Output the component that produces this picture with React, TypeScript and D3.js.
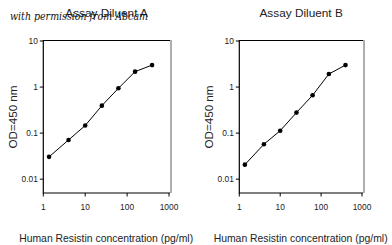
import React from "react";
import * as d3 from "d3";

const concentrations = [1.37, 4, 10, 25, 62, 155, 395];
const odDiluentA = [0.0305, 0.071, 0.146, 0.395, 0.94, 2.16, 3.0];
const odDiluentB = [0.0207, 0.0574, 0.113, 0.279, 0.664, 1.92, 3.0];
const xTicks = [1, 10, 100, 1000];
const yTicks = [10, 1, 0.1, 0.01];
const yTickLabels = ["10", "1", "0.1", "0.01"];
const xTickLabels = ["1", "10", "100", "1000"];
const panelTitles = ["Assay Diluent A", "Assay Diluent B"];
const xTitle = "Human Resistin concentration (pg/ml)";
const yTitle = "OD=450 nm";
const watermark = "with permission from Abcam";

const W = 392;
const H = 245;
const FONT = "'Liberation Sans', Arial, sans-serif";

function Panel({ x0, x1, values, title }: { x0: number; x1: number; values: number[]; title: string }) {
  const top = 41;
  const bottom = 193;
  const x = d3.scaleLog().domain([1, 1000]).range([x0, x1]);
  const y = d3.scaleLog().domain([Math.pow(10, -2.3), 10]).range([bottom, top]);
  const line = d3
    .line<number>()
    .x((_, i) => x(concentrations[i]))
    .y((d) => y(d));
  const cx = (x0 + x1) / 2;
  return (
    <g>
      <text x={cx + 0.5} y={16.5} textAnchor="middle" fontFamily={FONT} fontSize={11.8} fill="#222">
        {title}
      </text>
      <line x1={x0} x2={x1 + 1} y1={top - 0.5} y2={top - 0.5} stroke="#000" strokeWidth={1.2} />
      <line x1={x1 + 2} x2={x1 + 2} y1={top - 1} y2={bottom} stroke="#9a9a9a" strokeWidth={1.6} />
      <line x1={x0} x2={x0} y1={top - 1} y2={bottom + 0.5} stroke="#000" strokeWidth={1.2} />
      <line x1={x0} x2={x1 + 1} y1={bottom} y2={bottom} stroke="#000" strokeWidth={1.2} />
      {yTicks.map((t, i) => (
        <g key={"y" + i}>
          <line x1={x0 - 3.5} x2={x0} y1={y(t)} y2={y(t)} stroke="#000" strokeWidth={1} />
          <text x={x0 - 5.5} y={y(t) + 3} textAnchor="end" fontFamily={FONT} fontSize={8.4} fill="#222">
            {yTickLabels[i]}
          </text>
        </g>
      ))}
      {xTicks.map((t, i) => (
        <g key={"x" + i}>
          <line x1={x(t)} x2={x(t)} y1={bottom} y2={bottom + 3.5} stroke="#000" strokeWidth={1} />
          <text x={x(t)} y={209.5} textAnchor="middle" fontFamily={FONT} fontSize={8.4} fill="#222">
            {xTickLabels[i]}
          </text>
        </g>
      ))}
      <text
        transform={`translate(${x0 - 26},${117}) rotate(-90)`}
        textAnchor="middle"
        fontFamily={FONT}
        fontSize={11}
        fill="#222"
        textLength={63}
        lengthAdjust="spacingAndGlyphs"
      >
        {yTitle}
      </text>
      <text
        x={cx}
        y={242}
        textAnchor="middle"
        fontFamily={FONT}
        fontSize={10.5}
        fill="#222"
        textLength={174}
        lengthAdjust="spacingAndGlyphs"
      >
        {xTitle}
      </text>
      <path d={line(values) || ""} fill="none" stroke="#000" strokeWidth={1} />
      {values.map((v, i) => (
        <circle key={i} cx={x(concentrations[i])} cy={y(v)} r={2.3} fill="#000" />
      ))}
    </g>
  );
}

export default function App() {
  return (
    <svg
      width={W}
      height={H}
      viewBox={`0 0 ${W} ${H}`}
      style={{ position: "absolute", left: 0, top: 0, background: "#fff" }}
    >
      <rect width={W} height={H} fill="#fff" />
      <Panel x0={43.3} x1={169} values={odDiluentA} title={panelTitles[0]} />
      <Panel x0={239.3} x1={362} values={odDiluentB} title={panelTitles[1]} />
      <text
        x={10}
        y={19.5}
        fontFamily="'DejaVu Serif', 'Liberation Serif', serif"
        fontStyle="italic"
        fontSize={11.5}
        fill="#111"
        textLength={138}
        lengthAdjust="spacingAndGlyphs"
      >
        {watermark}
      </text>
    </svg>
  );
}
